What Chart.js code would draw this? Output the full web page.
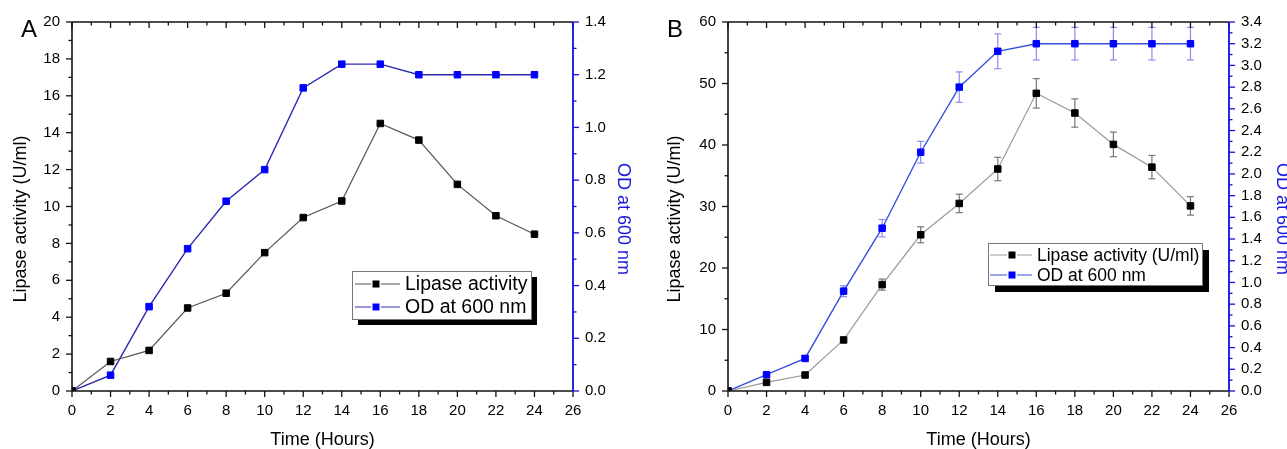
<!DOCTYPE html>
<html>
<head>
<meta charset="utf-8">
<script src="https://cdn.jsdelivr.net/npm/chart.js@4.4.1/dist/chart.umd.min.js"></script>
<style>
body { margin: 0; background: #fff; width: 1287px; height: 449px; overflow: hidden; position: relative; }
canvas { position: absolute; top: 0; }
#graficoA { left: 0; }
#graficoB { left: 645px; }
</style>
</head>
<body>
<canvas id="graficoA" width="645" height="449"></canvas>
<canvas id="graficoB" width="642" height="449"></canvas>
<script>
// datos
const horas = [0, 2, 4, 6, 8, 10, 12, 14, 16, 18, 20, 22, 24];

const lipasaA = [0, 1.6, 2.2, 4.5, 5.3, 7.5, 9.4, 10.3, 14.5, 13.6, 11.2, 9.5, 8.5];
const odA = [0, 0.06, 0.32, 0.54, 0.72, 0.84, 1.15, 1.24, 1.24, 1.2, 1.2, 1.2, 1.2];

const lipasaB = [0, 1.4, 2.6, 8.3, 17.3, 25.4, 30.5, 36.1, 48.4, 45.2, 40.1, 36.4, 30.1];
const errLipasaB = [0, 0.3, 0.3, 0.4, 0.9, 1.3, 1.5, 1.9, 2.4, 2.3, 2.0, 1.9, 1.5];
const odB = [0, 0.15, 0.3, 0.92, 1.5, 2.2, 2.8, 3.13, 3.2, 3.2, 3.2, 3.2, 3.2];
const errOdB = [0, 0.02, 0.02, 0.05, 0.08, 0.1, 0.14, 0.16, 0.15, 0.15, 0.15, 0.15, 0.15];

Chart.defaults.font.family = '"Liberation Sans", Arial, sans-serif';
Chart.defaults.color = '#000';

function puntos(ys) {
    return horas.map((h, i) => ({ x: h, y: ys[i] }));
}

function linea(ctx, x0, y0, x1, y1) {
    ctx.beginPath();
    ctx.moveTo(x0, y0);
    ctx.lineTo(x1, y1);
    ctx.stroke();
}

// marco, ejes y marcas menores estilo Origin
const marcasEjes = {
    id: 'marcasEjes',
    afterDraw(chart, args, o) {
        const ctx = chart.ctx;
        const a = chart.chartArea;
        const sx = chart.scales.x, sy = chart.scales.y, sy2 = chart.scales.y2;
        ctx.save();
        ctx.lineWidth = 1.6;
        ctx.strokeStyle = '#111';
        linea(ctx, a.left, a.bottom, a.right, a.bottom);
        linea(ctx, a.left, a.bottom, a.left, a.top);
        linea(ctx, a.left, a.top, a.right, a.top);
        ctx.lineWidth = 1.3;
        for (let i = 0; i <= 26; i++) {
            const px = sx.getPixelForValue(i);
            const l = i % 2 === 0 ? 6 : 3.5;
            linea(ctx, px, a.bottom, px, a.bottom + l);
            linea(ctx, px, a.top, px, a.top + l);
        }
        const nIzq = Math.round(sy.max / o.menorIzq);
        for (let i = 0; i <= nIzq; i++) {
            const py = sy.getPixelForValue(i * o.menorIzq);
            const l = i % 2 === 0 ? 6 : 3.5;
            linea(ctx, a.left - l, py, a.left, py);
        }
        ctx.strokeStyle = '#1010e0';
        ctx.lineWidth = 1.8;
        linea(ctx, a.right, a.bottom, a.right, a.top);
        ctx.lineWidth = 1.3;
        const nDer = Math.round(sy2.max / o.menorDer);
        for (let i = 0; i <= nDer; i++) {
            const py = sy2.getPixelForValue(i * o.menorDer);
            const l = i % 2 === 0 ? 6 : 3.5;
            linea(ctx, a.right, py, a.right + l, py);
        }
        ctx.fillStyle = '#000';
        ctx.font = '24px "Liberation Sans", Arial, sans-serif';
        ctx.fillText(o.letra, o.letraX, 37);
        ctx.restore();
    }
};

// barras de error verticales
const barrasError = {
    id: 'barrasError',
    beforeDatasetsDraw(chart) {
        const ctx = chart.ctx;
        ctx.save();
        chart.data.datasets.forEach((ds, k) => {
            if (!ds.errores) return;
            const sy = chart.scales[ds.yAxisID];
            const sx = chart.scales.x;
            ctx.strokeStyle = ds.colorError;
            ctx.lineWidth = 1.2;
            ds.data.forEach((p, i) => {
                const e = ds.errores[i];
                if (!e) return;
                const px = sx.getPixelForValue(p.x);
                const y0 = sy.getPixelForValue(p.y - e);
                const y1 = sy.getPixelForValue(p.y + e);
                linea(ctx, px, y0, px, y1);
                linea(ctx, px - 3.5, y0, px + 3.5, y0);
                linea(ctx, px - 3.5, y1, px + 3.5, y1);
            });
        });
        ctx.restore();
    }
};

// leyenda con caja y sombra negra
const leyendaCaja = {
    id: 'leyendaCaja',
    afterDraw(chart, args, o) {
        const ctx = chart.ctx;
        ctx.save();
        ctx.fillStyle = '#000';
        ctx.fillRect(o.x + o.sombra, o.y + o.sombra, o.w, o.h);
        ctx.fillStyle = '#fff';
        ctx.fillRect(o.x, o.y, o.w, o.h);
        ctx.strokeStyle = '#777';
        ctx.lineWidth = 1;
        ctx.strokeRect(o.x + 0.5, o.y + 0.5, o.w, o.h);
        ctx.font = o.tam + 'px "Liberation Sans", Arial, sans-serif';
        ctx.textBaseline = 'middle';
        chart.data.datasets.forEach((ds, i) => {
            const yy = o.filas[i];
            ctx.strokeStyle = ds.borderColor;
            ctx.lineWidth = 1;
            linea(ctx, o.lineaX[0], yy, o.marcaX - 5, yy);
            linea(ctx, o.marcaX + 5, yy, o.lineaX[1], yy);
            ctx.fillStyle = ds.pointBackgroundColor;
            ctx.fillRect(o.marcaX - 3.5, yy - 3.5, 7, 7);
            ctx.fillStyle = '#000';
            ctx.fillText(ds.label, o.textoX, yy + 1);
        });
        ctx.restore();
    }
};

function crearGrafico(id, cfg) {
    const ctx = document.getElementById(id);
    return new Chart(ctx, {
        type: 'line',
        data: {
            datasets: [{
                label: cfg.etiquetaLipasa,
                data: puntos(cfg.lipasa),
                errores: cfg.errLipasa,
                colorError: '#777',
                yAxisID: 'y',
                borderColor: cfg.colorLineaNegra,
                borderWidth: 1.2,
                pointStyle: 'rect',
                pointRadius: 4.6,
                pointBackgroundColor: '#000',
                pointBorderColor: '#000',
                pointBorderWidth: 1,
                tension: 0
            }, {
                label: 'OD at 600 nm',
                data: puntos(cfg.od),
                errores: cfg.errOd,
                colorError: '#8c8cf0',
                yAxisID: 'y2',
                borderColor: cfg.colorLineaAzul,
                borderWidth: 1.4,
                pointStyle: 'rect',
                pointRadius: 4.6,
                pointBackgroundColor: '#0000ff',
                pointBorderColor: '#0000ff',
                pointBorderWidth: 1,
                tension: 0
            }]
        },
        options: {
            responsive: false,
            animation: false,
            layout: { padding: { top: 22, left: 0, right: 0, bottom: 0 } },
            scales: {
                x: {
                    type: 'linear', min: 0, max: 26,
                    grid: { display: false, drawTicks: false },
                    border: { display: false },
                    ticks: { stepSize: 2, padding: 11, font: { size: 15 } },
                    title: { display: true, text: 'Time (Hours)', font: { size: 18, lineHeight: 1 }, padding: 0 },
                    afterFit: s => { s.height = 58; }
                },
                y: {
                    position: 'left', min: 0, max: cfg.maxIzq,
                    grid: { display: false, drawTicks: false },
                    border: { display: false },
                    ticks: { stepSize: cfg.pasoIzq, padding: 12, font: { size: 15 } },
                    // espacios al final: el titulo queda un poco mas abajo, como en el original
                    title: { display: true, text: 'Lipase activity (U/ml)     ', font: { size: 18, lineHeight: 1 }, padding: { top: cfg.padTituloIzq, bottom: 0 } },
                    afterFit: s => { s.width = cfg.anchoIzq; }
                },
                y2: {
                    position: 'right', min: 0, max: cfg.maxDer,
                    grid: { display: false, drawTicks: false },
                    border: { display: false },
                    ticks: { stepSize: 0.2, padding: 12, font: { size: 15 }, callback: v => v.toFixed(1) },
                    title: { display: true, text: '     OD at 600 nm', color: '#1a1ad8', font: { size: 18, lineHeight: 1 }, padding: { top: cfg.padTituloDer, bottom: 0 } },
                    afterFit: s => { s.width = cfg.anchoDer; }
                }
            },
            plugins: {
                legend: { display: false },
                tooltip: { enabled: false },
                marcasEjes: { menorIzq: cfg.menorIzq, menorDer: 0.1, letra: cfg.letra, letraX: cfg.letraX },
                leyendaCaja: cfg.leyenda
            }
        },
        plugins: [barrasError, marcasEjes, leyendaCaja]
    });
}

crearGrafico('graficoA', {
    etiquetaLipasa: 'Lipase activity',
    lipasa: lipasaA, od: odA,
    colorLineaNegra: '#555', colorLineaAzul: '#2a2ab0',
    maxIzq: 20, pasoIzq: 2, menorIzq: 1, maxDer: 1.4,
    anchoIzq: 72, anchoDer: 72, padTituloIzq: 12, padTituloDer: 13,
    letra: 'A', letraX: 21,
    leyenda: { x: 352, y: 271, w: 179, h: 48, sombra: 6, tam: 19.5, filas: [284, 307], lineaX: [355, 400], marcaX: 376, textoX: 405 }
});

crearGrafico('graficoB', {
    etiquetaLipasa: 'Lipase activity (U/ml)',
    lipasa: lipasaB, errLipasa: errLipasaB, od: odB, errOd: errOdB,
    colorLineaNegra: '#999', colorLineaAzul: '#3550e0',
    maxIzq: 60, pasoIzq: 10, menorIzq: 5, maxDer: 3.4,
    anchoIzq: 83, anchoDer: 58, padTituloIzq: 21, padTituloDer: -4,
    letra: 'B', letraX: 22,
    leyenda: { x: 343, y: 243, w: 214, h: 42, sombra: 7, tam: 17.5, filas: [255, 275], lineaX: [345, 387], marcaX: 367, textoX: 392 }
});
</script>
</body>
</html>
